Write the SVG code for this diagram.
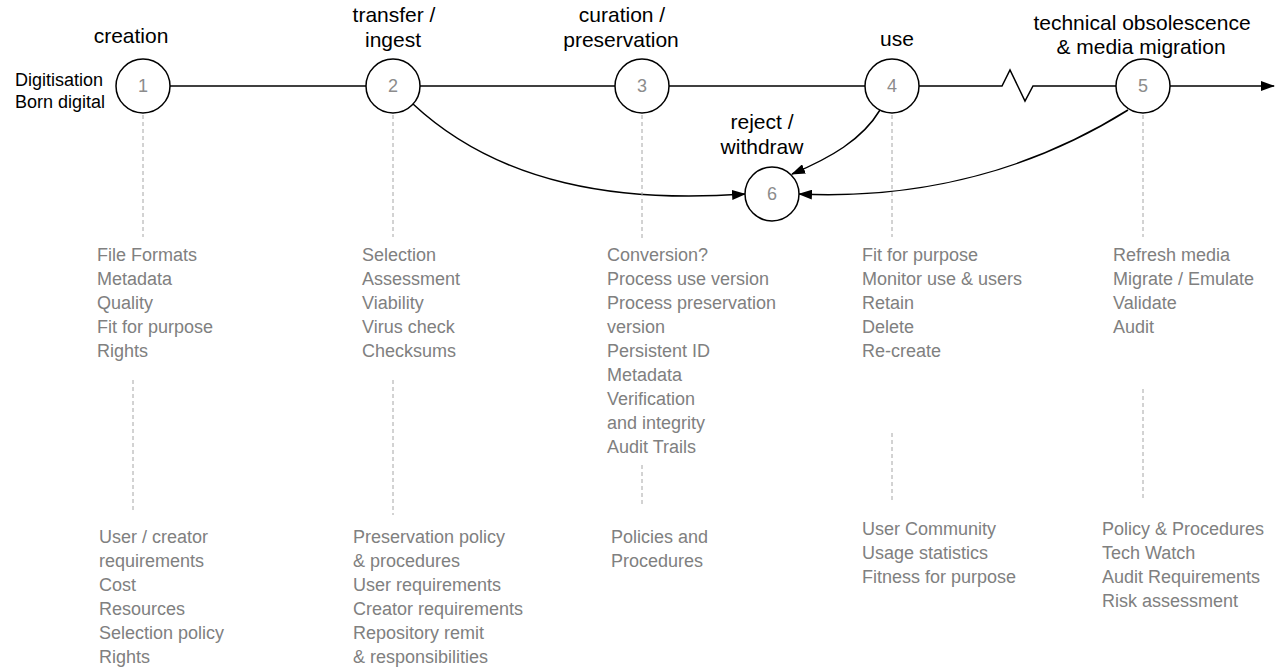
<svg xmlns="http://www.w3.org/2000/svg" width="1275" height="669" viewBox="0 0 1275 669">
<style>
  text { font-family: "Liberation Sans", Arial, sans-serif; }
  .title { font-size: 21px; fill: #000; text-anchor: middle; }
  .side { font-size: 18px; fill: #000; }
  .num { font-size: 18px; fill: #8c8c8c; text-anchor: middle; }
  .body { font-size: 18px; fill: #808080; }
  .node { fill: #fff; stroke: #000; stroke-width: 1.5; }
  .line { fill: none; stroke: #000; stroke-width: 1.5; }
  .dash { fill: none; stroke: #a6a6a6; stroke-width: 1; stroke-dasharray: 4 3; }
</style>
<defs>
  <marker id="arr" markerWidth="14" markerHeight="10" refX="13" refY="5" orient="auto" markerUnits="userSpaceOnUse">
    <path d="M0,0 L14,5 L0,10 Z" fill="#000"/>
  </marker>
</defs>
<rect width="1275" height="669" fill="#fff"/>

<g id="connectors">
  <line class="line" x1="170" y1="86" x2="366" y2="86"/>
  <line class="line" x1="420" y1="86" x2="615" y2="86"/>
  <line class="line" x1="669" y1="86" x2="865" y2="86"/>
  <polyline class="line" points="919,86 1002,86 1010,70 1025,101 1033,86 1116,86"/>
  <line class="line" x1="1170" y1="86" x2="1274" y2="86" marker-end="url(#arr)"/>
  <path class="line" d="M413,104 C500,185 620,203 745,194" marker-end="url(#arr)"/>
  <path class="line" d="M880,110 C862,140 830,158 792,174" marker-end="url(#arr)"/>
  <path class="line" d="M1128,110 C1040,165 930,200 799,194" marker-end="url(#arr)"/>
  <line class="dash" x1="143" y1="115" x2="143" y2="237"/>
  <line class="dash" x1="133" y1="380" x2="133" y2="510"/>
  <line class="dash" x1="393" y1="115" x2="393" y2="237"/>
  <line class="dash" x1="393" y1="380" x2="393" y2="515"/>
  <line class="dash" x1="642" y1="115" x2="642" y2="240"/>
  <line class="dash" x1="642" y1="465" x2="642" y2="505"/>
  <line class="dash" x1="892" y1="115" x2="892" y2="237"/>
  <line class="dash" x1="892" y1="433" x2="892" y2="500"/>
  <line class="dash" x1="1143" y1="115" x2="1143" y2="237"/>
  <line class="dash" x1="1143" y1="389" x2="1143" y2="500"/>
</g>

<g id="node1">
  <circle class="node" cx="143" cy="86" r="27"/>
  <text class="num" x="143" y="92">1</text>
  <text class="title" x="131" y="43">creation</text>
  <text class="side" x="15" y="86">Digitisation</text>
  <text class="side" x="15" y="108">Born digital</text>
  <text class="body" x="97"><tspan x="97" y="261">File Formats</tspan><tspan x="97" y="285">Metadata</tspan><tspan x="97" y="309">Quality</tspan><tspan x="97" y="333">Fit for purpose</tspan><tspan x="97" y="357">Rights</tspan></text>
  <text class="body" x="99"><tspan x="99" y="543">User / creator</tspan><tspan x="99" y="567">requirements</tspan><tspan x="99" y="591">Cost</tspan><tspan x="99" y="615">Resources</tspan><tspan x="99" y="639">Selection policy</tspan><tspan x="99" y="663">Rights</tspan></text>
</g>

<g id="node2">
  <circle class="node" cx="393" cy="86" r="27"/>
  <text class="num" x="393" y="92">2</text>
  <text class="title" x="394" y="22">transfer /</text>
  <text class="title" x="393" y="47">ingest</text>
  <text class="body"><tspan x="362" y="261">Selection</tspan><tspan x="362" y="285">Assessment</tspan><tspan x="362" y="309">Viability</tspan><tspan x="362" y="333">Virus check</tspan><tspan x="362" y="357">Checksums</tspan></text>
  <text class="body"><tspan x="353" y="543">Preservation policy</tspan><tspan x="353" y="567">&amp; procedures</tspan><tspan x="353" y="591">User requirements</tspan><tspan x="353" y="615">Creator requirements</tspan><tspan x="353" y="639">Repository remit</tspan><tspan x="353" y="663">&amp; responsibilities</tspan></text>
</g>

<g id="node3">
  <circle class="node" cx="642" cy="86" r="27"/>
  <text class="num" x="642" y="92">3</text>
  <text class="title" x="622" y="22">curation /</text>
  <text class="title" x="621" y="47">preservation</text>
  <text class="body"><tspan x="607" y="261">Conversion?</tspan><tspan x="607" y="285">Process use version</tspan><tspan x="607" y="309">Process preservation</tspan><tspan x="607" y="333">version</tspan><tspan x="607" y="357">Persistent ID</tspan><tspan x="607" y="381">Metadata</tspan><tspan x="607" y="405">Verification</tspan><tspan x="607" y="429">and integrity</tspan><tspan x="607" y="453">Audit Trails</tspan></text>
  <text class="body"><tspan x="611" y="543">Policies and</tspan><tspan x="611" y="567">Procedures</tspan></text>
</g>

<g id="node4">
  <circle class="node" cx="892" cy="86" r="27"/>
  <text class="num" x="892" y="92">4</text>
  <text class="title" x="897" y="46">use</text>
  <text class="body"><tspan x="862" y="261">Fit for purpose</tspan><tspan x="862" y="285">Monitor use &amp; users</tspan><tspan x="862" y="309">Retain</tspan><tspan x="862" y="333">Delete</tspan><tspan x="862" y="357">Re-create</tspan></text>
  <text class="body"><tspan x="862" y="535">User Community</tspan><tspan x="862" y="559">Usage statistics</tspan><tspan x="862" y="583">Fitness for purpose</tspan></text>
</g>

<g id="node5">
  <circle class="node" cx="1143" cy="86" r="27"/>
  <text class="num" x="1143" y="92">5</text>
  <text class="title" x="1142" y="30">technical obsolescence</text>
  <text class="title" x="1141" y="54">&amp; media migration</text>
  <text class="body"><tspan x="1113" y="261">Refresh media</tspan><tspan x="1113" y="285">Migrate / Emulate</tspan><tspan x="1113" y="309">Validate</tspan><tspan x="1113" y="333">Audit</tspan></text>
  <text class="body"><tspan x="1102" y="535">Policy &amp; Procedures</tspan><tspan x="1102" y="559">Tech Watch</tspan><tspan x="1102" y="583">Audit Requirements</tspan><tspan x="1102" y="607">Risk assessment</tspan></text>
</g>

<g id="node6">
  <circle class="node" cx="772" cy="194" r="27"/>
  <text class="num" x="772" y="200">6</text>
  <text class="title" x="762" y="129">reject /</text>
  <text class="title" x="762" y="154">withdraw</text>
</g>
</svg>
